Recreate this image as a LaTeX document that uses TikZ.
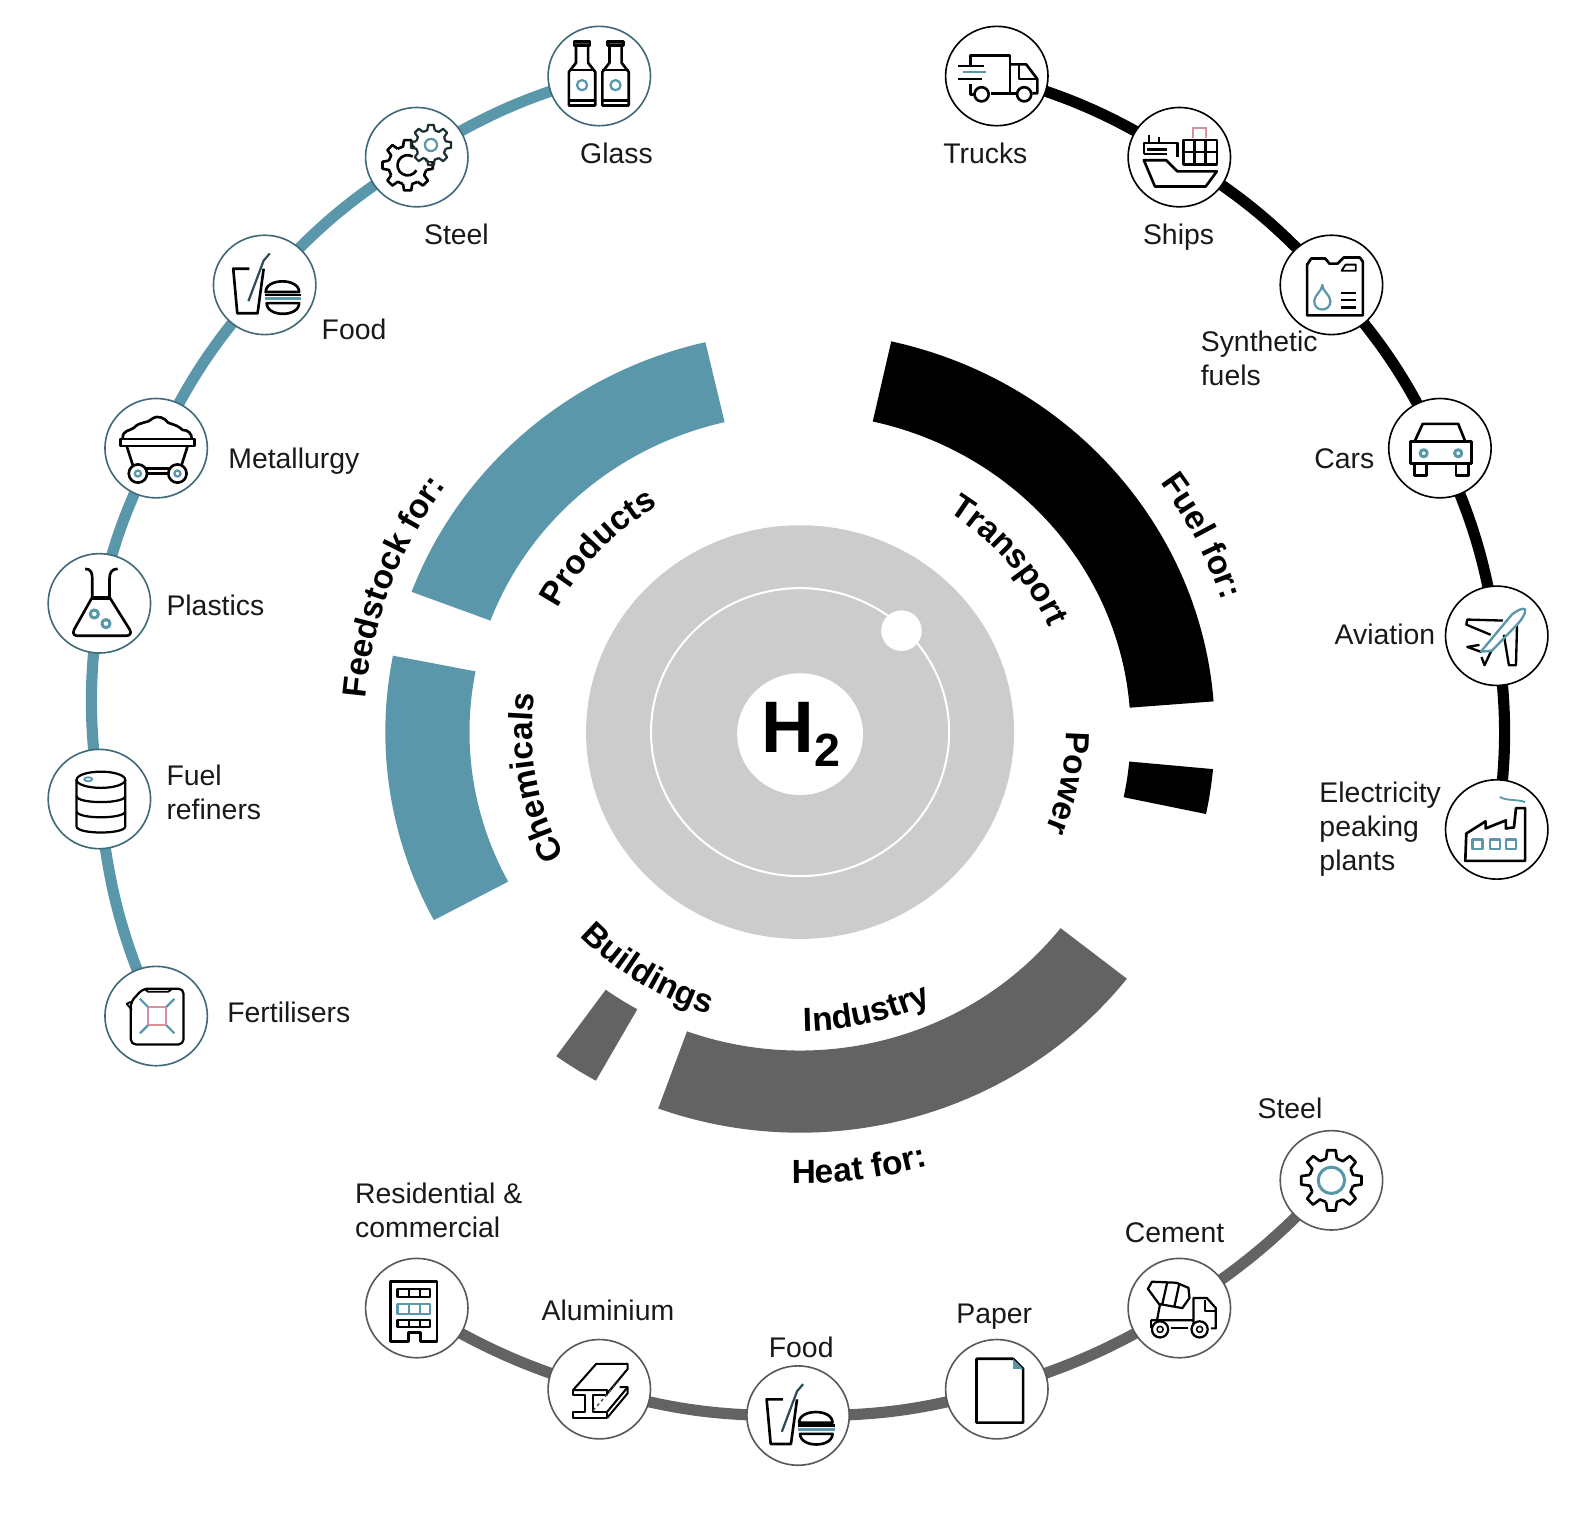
\documentclass[tikz,border=0pt]{standalone}
\usepackage{fontspec}
\setmainfont{Liberation Sans}
\usetikzlibrary{shapes.geometric,backgrounds,decorations.text}
\definecolor{tealc}{HTML}{5B97AB}
\definecolor{darkg}{HTML}{636363}
\definecolor{lightg}{HTML}{CCCCCC}
\definecolor{pinkc}{HTML}{D9909A}
\newcommand{\ringsector}[3]{\fill[#1] ([shift={(#2:409pt and 395pt)}]c) arc[start angle=#2,end angle=#3,x radius=409pt,y radius=395pt] -- ([shift={(#3:326pt and 314pt)}]c) arc[start angle=#3,end angle=#2,x radius=326pt,y radius=314pt] -- cycle;}
% #1 rx, #2 ry, #3 start, #4 end, #5 text
\newcommand{\curvelabel}[5]{\path[postaction={decorate},decoration={text along path,text align=center,text={|\fontsize{33}{33}\selectfont\bfseries|#5}}] ([shift={(#3:#1pt and #2pt)}]c) arc[start angle=#3,end angle=#4,x radius=#1pt,y radius=#2pt];}
% #1 style, #2 outer, #3 inner
\newcommand{\gearring}[3]{\foreach \gi in {0,...,7} {\pgfmathsetmacro{\ga}{\gi*45-14}\pgfmathsetmacro{\gb}{\gi*45-8}\pgfmathsetmacro{\gc}{\gi*45+8}\pgfmathsetmacro{\gd}{\gi*45+14}\pgfmathsetmacro{\ge}{\gi*45+31}\draw[#1] (\ga:#3) -- (\gb:#2) -- (\gc:#2) -- (\gd:#3) -- (\ge:#3);}}
\tikzset{
  x=1pt,y=1pt,
  hub/.style={shape=ellipse,minimum width=101pt,minimum height=98pt,inner sep=0pt,fill=white,line width=1.6pt},
  hubT/.style={hub,draw=tealc!70!black},
  hubK/.style={hub,draw=black},
  hubG/.style={hub,draw=darkg!90!black},
  conn/.style={line width=11pt},
  lbl/.style={font=\fontsize{28}{33}\selectfont,inner sep=0pt,anchor=west,text height=20pt,text depth=0pt,align=left,text=black!90},
  lblm/.style={font=\fontsize{28}{33.5}\selectfont,inner sep=0pt,anchor=north west,align=left,text=black!90},
  ik/.style={draw=black,line width=2.6pt,line join=round},
  ikt/.style={draw=black,line width=1.8pt,line join=round},
  ia/.style={draw=tealc,line width=2.2pt,line join=round},
  pics/icBottles/.style={code={
    \foreach \cx in {-17,16}{
      \begin{scope}[shift={(\cx,0)}]
      \draw[ik] (-13,-29) -- (-13,4) -- (-6,13) -- (-6,30) -- (6,30) -- (6,13) -- (13,4) -- (13,-29) -- cycle;
      \draw[ik,fill=black!70] (-8,30) rectangle (8,34);
      \draw[ik] (-13,-24) -- (13,-24);
      \draw[ikt] (-13,6) -- (13,6);
      \draw[ia] (0,-9) circle (5);
      \end{scope}}
  }},
  pics/icGears/.style={code={
    \begin{scope}[shift={(-9,-8)}]
    \gearring{ik}{25}{19}
    \draw[ik] (60:10) arc[start angle=60,end angle=330,radius=10];
    \end{scope}
    \begin{scope}[shift={(14,12)}]
    \fill[white] (0,0) circle (16);
    \gearring{ik,draw=black!70!tealc,line width=2.2pt}{20}{15}
    \draw[ia] (0,0) circle (6);
    \end{scope}
  }},
  pics/icFood/.style={code={
    \draw[ik] (-15,16) -- (-31,16) -- (-27,-28) -- (-7,-28) -- (-1,16);
    \draw[line width=2.2pt,draw=black!50!tealc] (-16,-16) -- (-1,24) -- (5,31);
    \draw[ik] (1,-7) .. controls (1,7) and (34,7) .. (34,-7) -- cycle;
    \draw[ik] (0,-10) -- (36,-10);
    \draw[ia,line width=3pt] (0,-13.5) -- (36,-13.5);
    \draw[ik] (2,-18) -- (34,-18) .. controls (34,-32) and (2,-32) .. (2,-18) -- cycle;
  }},
  pics/icCart/.style={code={
    \draw[ik] (-33,10) .. controls (-33,18) and (-26,17) .. (-22,20) .. controls (-16,27) and (-8,24) .. (-4,29) .. controls (2,33) and (8,30) .. (12,25) .. controls (18,23) and (22,22) .. (26,18) .. controls (32,18) and (35,14) .. (35,10);
    \draw[ik] (-35,9) rectangle (38,2);
    \draw[ik] (-29,2) -- (-22,-20) -- (24,-20) -- (31,2);
    \draw[ik,fill=white] (-18,-25) circle (9);
    \draw[ik,fill=white] (21,-25) circle (9);
    \draw[ik] (-9,-25) -- (12,-25);
    \draw[ia] (-18,-25) circle (3);
    \draw[ia] (21,-25) circle (3);
  }},
  pics/icFlask/.style={code={
    \draw[ik] (-14,34) .. controls (-8,34) and (-7,30) .. (-7,24) -- (-7,6) -- (-25,-26) .. controls (-27,-31) and (-24,-32) .. (-21,-32) -- (26,-32) .. controls (30,-32) and (32,-30) .. (30,-26) -- (10,6) -- (10,24) .. controls (10,30) and (12,34) .. (18,34);
    \draw[draw=black,line width=3.5pt] (-8,5) -- (11,5);
    \draw[ia,line width=3pt] (-5,-10.5) circle (4);
    \draw[ia,line width=3pt] (6.5,-20) circle (4);
  }},
  pics/icBarrels/.style={code={
    \draw[ikt,line width=2.2pt] (-22.5,19) -- (-22.5,-27) .. controls (-22.5,-35) and (25.5,-35) .. (25.5,-27) -- (25.5,19);
    \draw[ikt,line width=2.2pt] (1.5,19) ellipse (24 and 8);
    \draw[ikt,line width=2.2pt] (-22.5,3) .. controls (-22.5,-5) and (25.5,-5) .. (25.5,3);
    \draw[ikt,line width=2.2pt] (-22.5,-12) .. controls (-22.5,-20) and (25.5,-20) .. (25.5,-12);
    \draw[ia,line width=1.8pt] (-11,19.5) ellipse (4 and 2);
  }},
  pics/icJerry/.style={code={
    \draw[ikt,rounded corners=5pt,line width=2.2pt] (-25,14) -- (-25,-28) -- (27,-28) -- (27,27) -- (-13,27) -- cycle;
    \draw[ikt] (-25,14) -- (-29,12) -- (-24,6);
    \draw[ikt] (-12,27) -- (-8,24) -- (12,24) -- (16,27);
    \draw[draw=pinkc,line width=2pt] (-8,-9) rectangle (10,9);
    \draw[ia] (-8,9) -- (-16,17) (10,9) -- (18,17) (-8,-9) -- (-16,-17) (10,-9) -- (18,-17);
  }},
  pics/icTruck/.style={code={
    \draw[ik] (-26,11) -- (-26,20) -- (13,20) -- (13,-17) -- (-6,-17);
    \draw[ik] (-26,-8) -- (-26,-18) -- (-22,-18);
    \draw[ik] (13,11.5) -- (29,11.5) -- (40,-3) -- (40,-17) -- (35,-17);
    \draw[ik] (13,-17) -- (19,-17);
    \draw[ikt] (22,11) -- (22,-3) -- (40,-3);
    \draw[ik,fill=white] (-15,-18) circle (7);
    \draw[ik,fill=white] (27,-18) circle (7);
    \draw[ik] (-38,10) -- (-13,10);
    \draw[ia] (-33,4) -- (-11,4);
    \draw[ik] (-38,-3) -- (-15,-3);
  }},
  pics/icShip/.style={code={
    \draw[ik] (-35,-3) -- (-13,-3) -- (-2,-14) -- (37,-14) -- (26,-29) -- (-24,-29) -- cycle;
    \draw[ik] (-35,3) -- (-35,14) -- (-2,14) -- (-2,0);
    \draw[ik] (-35,3) -- (-12,3);
    \draw[ik] (-30,14) -- (-30,22) (-20,14) -- (-20,20);
    \draw[ik,line width=3pt] (-32,8) -- (-12,8);
    \draw[ik] (4,17) -- (37,17) -- (37,-7) -- (4,-7) -- cycle;
    \draw[ikt,line width=2.4pt] (4,5) -- (37,5) (15,17) -- (15,-7) (26,17) -- (26,-7);
    \draw[draw=pinkc,line width=2pt] (13,19) -- (13,29) -- (26,29) -- (26,19);
  }},
  pics/icCan/.style={code={
    \draw[ik] (-24,-30) -- (-24,20) -- (-20,26) -- (-6,26) -- (-2,21) -- (6,21) -- (12,27) -- (28,27) -- (31,23) -- (31,-30) -- cycle;
    \draw[ikt] (14,20) -- (24,20) -- (24,14) -- (10,14) -- cycle;
    \draw[ia] (-9,0) .. controls (-9,-6) and (-17,-10) .. (-17,-16) .. controls (-17,-27) and (-1,-27) .. (-1,-16) .. controls (-1,-10) and (-9,-6) .. (-9,0) -- cycle;
    \draw[ik] (9,-8) -- (24,-8) (9,-15) -- (24,-15) (9,-22) -- (24,-22);
  }},
  pics/icCar/.style={code={
    \draw[ik] (-25,6.6) -- (-17,24) -- (18,24) -- (25,6.6);
    \draw[ik] (-29,6.6) rectangle (31,-15);
    \draw[ik] (-25,-15) rectangle (-13,-27);
    \draw[ik] (16,-15) rectangle (28,-27);
    \draw[ia,line width=3pt] (-16,-5) circle (3.5);
    \draw[ia,line width=3pt] (18,-5) circle (3.5);
  }},
  pics/icPlane/.style={code={
    \draw[ikt,line width=2.3pt] (6,15) -- (-29,16) -- (-30,11) -- (-6,1);
    \draw[ikt,line width=2.3pt] (7,1) -- (12,-29) -- (19,-29) -- (20,10);
    \draw[ikt,line width=2.3pt] (-17,-9) -- (-29,-11) -- (-15,-16);
    \draw[ikt,line width=2.3pt] (-5,-14) -- (-12,-29) -- (-15,-21);
    \draw[line width=2.3pt,draw=tealc,line join=round] (-15.5,-15.5) -- (15,21) .. controls (20,25) and (26,28) .. (28,26) .. controls (29,22) and (24,15) .. (20,11) -- (-5,-15) -- cycle;
  }},
  pics/icFactory/.style={code={
    \draw[ik] (-31,-31) -- (28,-31) -- (28,21) -- (19,21) -- (17,2) -- (9,1) -- (9,9) -- (-11,1) -- (-11,8) -- (-30,-4) -- cycle;
    \draw[ia] (-24,-10) rectangle (-14,-19);
    \draw[ia] (-7,-10) rectangle (3,-19);
    \draw[ia] (9,-10) rectangle (19,-19);
    \draw[ia,line width=1.8pt] (3,32) .. controls (10,28) and (20,30) .. (28,27);
  }},
  pics/icBuilding/.style={code={
    \draw[ik] (-8,-33) -- (-26,-33) -- (-26,26) -- (20,26) -- (20,-33) -- (3.5,-33) -- (3.5,-24) -- (-8,-24) -- cycle;
    \foreach \ya/\yb in {19/11,-11.5/-19}{
      \draw[ikt,line width=2.2pt] (-19,\ya) rectangle (13,\yb);
      \draw[ikt,line width=2.2pt] (-8,\ya) -- (-8,\yb) (3,\ya) -- (3,\yb);}
    \draw[ia] (-19,4) rectangle (13,-5.5);
    \draw[ia] (-8,4) -- (-8,-5.5) (3,4) -- (3,-5.5);
  }},
  pics/icBeam/.style={code={
    \draw[ikt,line width=2pt] (-26,-1) -- (-3,25) -- (28,25) -- (28,20) -- (8,-4) -- (8,-1) -- (-26,-1) -- cycle;
    \draw[ikt,line width=2pt] (-26,-1) -- (-26,-6) -- (-14,-6) -- (-14,-22) -- (-26,-22) -- (-26,-28) -- (8,-28) -- (8,-22) -- (-6,-22) -- (-6,-6) -- (8,-6) -- (8,-1);
    \draw[ikt,line width=2pt] (8,-28) -- (28,-4) -- (28,2) -- (20,2);
    \draw[ikt,line width=2pt] (8,-22) -- (28,2);
    \draw[line width=1.4pt,dashed,draw=black!70] (-6,-21) -- (19,8);
  }},
  pics/icPaper/.style={code={
    \draw[ik] (-20,30) -- (16,30) -- (26,20) -- (26,-33) -- (-20,-33) -- cycle;
    \fill[tealc] (16,30) -- (26,20) -- (16,20) -- cycle;
  }},
  pics/icMixer/.style={code={
    \draw[ikt,line width=2.2pt] (-31,19) -- (-27,26) -- (-3,25) -- (9,20) -- (10,10) -- (3,0) -- (-20,4) -- cycle;
    \draw[ikt,line width=2.2pt] (-12,25) -- (-17,3) (0,24) -- (-5,1);
    \draw[ikt,line width=2.2pt] (-19,4) -- (-22,-12);
    \draw[ikt,line width=2.2pt] (-28,-12) -- (14,-12) (14,-18) -- (14,10) -- (27,10) -- (36,0) -- (36,-20) -- (31,-20);
    \draw[ikt,line width=2.2pt] (-28,-12) -- (-28,-20);
    \draw[ikt,line width=2.2pt] (-8,-20) -- (9,-20);
    \draw[ikt,line width=2.2pt] (25,8) -- (25,-3) -- (36,-3);
    \draw[ikt,line width=2.2pt,fill=white] (-19,-21) circle (8);
    \draw[ikt,line width=2.2pt,fill=white] (20,-21) circle (8);
    \draw[ikt,line width=1.5pt] (-19,-21) circle (3);
    \draw[ikt,line width=1.5pt] (20,-21) circle (3);
  }},
  pics/icGear/.style={code={
    \gearring{ik}{30}{22}
    \draw[ia,line width=3pt] (0,0) circle (13);
  }}
}
\begin{document}
\begin{tikzpicture}
\useasboundingbox (0,0) rectangle (1568,1495);
\coordinate (c) at (789,773);
% central discs
\fill[lightg] (c) ellipse (211 and 204);
\draw[white,line width=2pt] (c) ellipse (147 and 142);
\fill[white] (889,873) circle (20);
\fill[white] (789,771) ellipse (62 and 60);
\node[anchor=base,inner sep=0pt,font=\bfseries] (h2) at (790,753) {\fontsize{72}{72}\selectfont H\raisebox{-14pt}{\fontsize{46}{46}\selectfont 2}};
% ring sectors
\ringsector{tealc}{103.2}{159.5}
\ringsector{tealc}{169}{208}
\ringsector{darkg}{234}{240.5}
\ringsector{darkg}{250}{322}
\ringsector{black}{77.3}{4.4}
\ringsector{black}{354.7}{348.2}
% ring labels
\curvelabel{270}{261}{172}{102}{Products}
\curvelabel{264}{255}{225}{155}{Chemicals}
\curvelabel{268}{259}{75}{5}{Transport}
\curvelabel{262}{253}{20}{-42}{Power}
\curvelabel{437}{422}{65}{-12}{Fuel for:}
\curvelabel{430}{416}{200}{120}{Feedstock for:}
\curvelabel{306}{295}{250}{316}{Industry}
\curvelabel{460}{445}{245}{310}{Heat for:}
\curvelabel{300}{291}{205}{271}{Buildings}
% hubs: feedstock
\node[hubT] (nGlass) at (591,1420) {};
\node[hubT] (nSteelA) at (411,1340) {};
\node[hubT] (nFoodA) at (261,1214) {};
\node[hubT] (nMetal) at (154,1053) {};
\node[hubT] (nPlast) at (98,900) {};
\node[hubT] (nRefin) at (98,707) {};
\node[hubT] (nFert) at (154,493) {};
% hubs: fuel
\node[hubK] (nTruck) at (983,1420) {};
\node[hubK] (nShip) at (1163,1340) {};
\node[hubK] (nSynth) at (1313,1214) {};
\node[hubK] (nCar) at (1420,1053) {};
\node[hubK] (nAvia) at (1476,868) {};
\node[hubK] (nElec) at (1476,677) {};
% hubs: heat
\node[hubG] (nResid) at (411,205) {};
\node[hubG] (nAlu) at (591,125) {};
\node[hubG] (nFoodB) at (787,99) {};
\node[hubG] (nPaper) at (983,125) {};
\node[hubG] (nCement) at (1163,205) {};
\node[hubG] (nSteelB) at (1313,331) {};
% connectors
\begin{scope}[on background layer]
\draw[conn,tealc] (nGlass.center) to[bend right=8] (nSteelA.center);
\draw[conn,tealc] (nSteelA.center) to[bend right=8] (nFoodA.center);
\draw[conn,tealc] (nFoodA.center) to[bend right=8] (nMetal.center);
\draw[conn,tealc] (nMetal.center) to[bend right=7] (nPlast.center);
\draw[conn,tealc] (nPlast.center) to[bend right=8] (nRefin.center);
\draw[conn,tealc] (nRefin.center) to[bend right=9] (nFert.center);
\draw[conn,black] (nTruck.center) to[bend left=8] (nShip.center);
\draw[conn,black] (nShip.center) to[bend left=8] (nSynth.center);
\draw[conn,black] (nSynth.center) to[bend left=8] (nCar.center);
\draw[conn,black] (nCar.center) to[bend left=8] (nAvia.center);
\draw[conn,black] (nAvia.center) to[bend left=8] (nElec.center);
\draw[conn,darkg] (nResid.center) to[bend right=7] (nAlu.center);
\draw[conn,darkg] (nAlu.center) to[bend right=8] (nFoodB.center);
\draw[conn,darkg] (nFoodB.center) to[bend right=8] (nPaper.center);
\draw[conn,darkg] (nPaper.center) to[bend right=7] (nCement.center);
\draw[conn,darkg] (nCement.center) to[bend right=7] (nSteelB.center);
\end{scope}
% icons
\pic at (nGlass.center) {icBottles};
\pic at (nSteelA.center) {icGears};
\pic at (nFoodA.center) {icFood};
\pic at (nMetal.center) {icCart};
\pic at (nPlast.center) {icFlask};
\pic at (nRefin.center) {icBarrels};
\pic at (nFert.center) {icJerry};
\pic at (nTruck.center) {icTruck};
\pic at (nShip.center) {icShip};
\pic at (nSynth.center) {icCan};
\pic at (nCar.center) {icCar};
\pic at (nAvia.center) {icPlane};
\pic at (nElec.center) {icFactory};
\pic at (nResid.center) {icBuilding};
\pic at (nAlu.center) {icBeam};
\pic at (nFoodB.center) {icFood};
\pic at (nPaper.center) {icPaper};
\pic at (nCement.center) {icMixer};
\pic at (nSteelB.center) {icGear};
% labels
\node[lbl] (tGlass) at (572,1344) {Glass};
\node[lbl] (tSteelA) at (418,1264) {Steel};
\node[lbl] (tFoodA) at (317,1170) {Food};
\node[lbl] (tMetal) at (225,1043) {Metallurgy};
\node[lbl] (tPlast) at (164,898) {Plastics};
\node[lblm] (tRefin) at (164,741) {Fuel\\refiners};
\node[lbl] (tFert) at (224,497) {Fertilisers};
\node[lbl] (tTruck) at (930,1344) {Trucks};
\node[lbl] (tShip) at (1127,1264) {Ships};
\node[lblm] (tSynth) at (1184,1169) {Synthetic\\fuels};
\node[lbl] (tCar) at (1296,1043) {Cars};
\node[lbl] (tAvia) at (1316,869) {Aviation};
\node[lblm] (tElec) at (1301,724) {Electricity\\peaking\\plants};
\node[lblm] (tResid) at (350,329) {Residential \&\\commercial};
\node[lbl] (tAlu) at (534,203) {Aluminium};
\node[lbl] (tFoodB) at (758,166) {Food};
\node[lbl] (tPaper) at (943,200) {Paper};
\node[lbl] (tCement) at (1109,280) {Cement};
\node[lbl] (tSteelB) at (1240,402) {Steel};
\end{tikzpicture}
\end{document}
